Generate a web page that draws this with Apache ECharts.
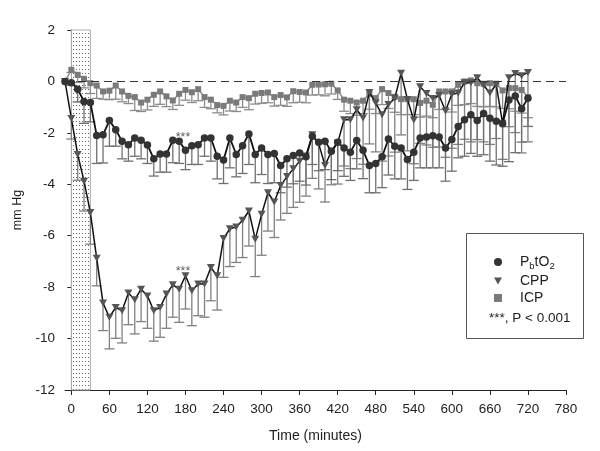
<!DOCTYPE html>
<html>
<head>
<meta charset="utf-8">
<script src="https://cdn.jsdelivr.net/npm/echarts@6/dist/echarts.min.js"></script>
<style>html,body{margin:0;padding:0;background:#fff;}#c{width:600px;height:451px;}</style>
</head>
<body>
<div id="c"></div>
<script>
const times = [-10,0,10,20,30,40,50,60,70,80,90,100,110,120,130,140,150,160,170,180,190,200,210,220,230,240,250,260,270,280,290,300,310,320,330,340,350,360,370,380,390,400,410,420,430,440,450,460,470,480,490,500,510,520,530,540,550,560,570,580,590,600,610,620,630,640,650,660,670,680,690,700,710,720];

const pbto2 = [0,-0.05,-0.3,-0.78,-0.82,-2.1,-2.07,-1.52,-1.88,-2.33,-2.46,-2.2,-2.29,-2.47,-3.01,-2.82,-2.82,-2.29,-2.33,-2.68,-2.5,-2.46,-2.2,-2.2,-2.91,-3.06,-2.2,-2.84,-2.5,-2.04,-2.84,-2.59,-2.84,-2.8,-3.27,-3.01,-2.88,-2.78,-2.93,-2.13,-2.37,-2.33,-2.72,-2.37,-2.59,-2.75,-2.3,-2.68,-3.27,-3.19,-2.93,-2.24,-2.52,-2.59,-3.04,-2.75,-2.2,-2.16,-2.11,-2.16,-2.59,-2.26,-1.75,-1.49,-1.3,-1.52,-1.25,-1.43,-1.55,-1.65,-0.72,-0.57,-1.06,-0.65];
const pbto2Err = [0,0.1,0.5,0.85,0.75,1.09,1.1,1.0,0.64,0.68,0.64,0.71,0.72,0.72,0.67,0.71,0.71,0.87,0.86,0.75,0.73,0.77,0.71,0.9,0.88,0.91,1.16,0.87,1.08,1.19,1.1,1.03,1.13,1.14,1.06,1.1,1.1,1.1,1.1,1.1,1.1,1.1,1.1,1.1,1.1,1.1,1.1,1.1,1.06,1.14,1.2,1.4,1.27,1.2,1.16,1.1,1.16,1.2,1.25,1.2,1.29,1.23,1.22,1.42,1.5,1.39,1.6,1.67,1.7,1.65,2.4,2.2,1.3,1.1];

const cpp = [0,-1.44,-2.84,-3.88,-5.1,-6.88,-8.62,-9.17,-8.79,-8.92,-8.23,-8.49,-8.08,-8.34,-8.92,-8.79,-8.27,-7.91,-8.08,-7.56,-8.14,-7.88,-7.88,-7.24,-7.56,-6.11,-5.73,-5.66,-5.4,-5.04,-6.14,-5.17,-4.33,-4.69,-4.05,-3.7,-3.4,-3.1,-2.9,-2.07,-2.42,-3.27,-2.72,-2.39,-1.49,-1.49,-1.1,-1.42,-0.43,-0.84,-1.3,-0.9,-0.65,0.32,-0.7,-1.5,-0.21,-0.47,-0.66,-0.55,-1.15,-0.5,-0.45,-0.05,-0.05,0.14,-0.15,-0.45,-0.12,-1.63,0.14,0.31,0.22,0.35];
const cppErr = [0,0.8,1.0,1.16,1.23,1.07,1.07,1.23,1.2,1.25,1.23,1.33,1.26,1.26,1.18,1.16,1.33,1.26,1.29,1.29,1.36,1.23,1.29,1.29,1.33,1.51,1.47,1.38,1.45,1.36,1.45,1.59,1.49,1.38,1.34,1.43,1.5,1.6,1.56,1.7,1.76,1.42,1.3,1.6,1.8,1.9,1.9,1.8,2.0,1.9,1.8,2.0,2.1,2.4,2.0,1.7,2.2,2.0,1.9,2.0,1.8,2.1,2.0,2.2,2.3,2.4,2.2,2.0,2.1,1.4,1.9,2.3,3.0,2.7];

const icp = [0,0.45,0.26,0.1,-0.07,-0.16,-0.39,-0.36,-0.16,-0.39,-0.56,-0.61,-0.82,-0.71,-0.52,-0.39,-0.58,-0.74,-0.48,-0.33,-0.42,-0.3,-0.61,-0.71,-0.92,-0.95,-0.75,-0.82,-0.61,-0.65,-0.48,-0.45,-0.43,-0.61,-0.53,-0.62,-0.38,-0.41,-0.43,-0.13,-0.12,-0.11,-0.09,-0.35,-0.71,-0.75,-0.82,-0.75,-0.48,-0.65,-0.3,-0.45,-0.6,-0.69,-0.69,-0.69,-0.84,-0.75,-0.91,-0.39,-0.39,-0.39,-0.13,0.0,0.04,-0.07,-0.09,-0.07,-0.09,-0.35,-0.26,-0.26,-0.33,-0.61];
const icpErr = [0,0.1,0.3,0.35,0.4,0.5,0.3,0.35,0.53,0.4,0.3,0.52,0.35,0.4,0.45,0.5,0.4,0.35,0.45,0.4,0.4,0.45,0.4,0.35,0.3,0.35,0.4,0.35,0.4,0.45,0.4,0.4,0.4,0.35,0.4,0.35,0.45,0.4,0.4,0.4,0.4,0.45,0.4,0.35,0.45,0.5,0.5,0.5,0.6,0.6,0.6,0.6,0.6,0.6,0.6,0.6,0.55,0.6,0.5,0.7,0.7,0.8,0.8,0.9,0.9,0.9,0.9,0.9,0.9,0.7,0.8,0.9,0.9,0.8];

const xTicks = [0,60,120,180,240,300,360,420,480,540,600,660,720,780];
const sigLabels = [[176, -2.2], [176, -7.41]];
const shadeRange = [0, 30];

const FONT = "'Liberation Sans', Arial, sans-serif";
const pair = (vals) => times.map((t, i) => [t, vals[i]]);
const triple = (vals, errs) => times.map((t, i) => [t, vals[i], errs[i]]);

function errSeries(vals, errs, color, z) {
  return {
    type: 'custom', z: z, silent: true,
    data: triple(vals, errs),
    encode: { x: 0, y: 1 },
    renderItem: function (params, api) {
      const x = api.value(0), y = api.value(1), e = api.value(2);
      if (!e) return null;
      const p1 = api.coord([x, y]);
      const p2 = api.coord([x, y - e]);
      const st = { stroke: color, lineWidth: 1.3 };
      return { type: 'group', children: [
        { type: 'line', shape: { x1: p1[0], y1: p1[1], x2: p2[0], y2: p2[1] }, style: st },
        { type: 'line', shape: { x1: p2[0] - 5, y1: p2[1], x2: p2[0] + 5, y2: p2[1] }, style: st }
      ]};
    }
  };
}

const pc = document.createElement('canvas');
pc.width = 3; pc.height = 4;
const pctx = pc.getContext('2d');
pctx.fillStyle = '#fff'; pctx.fillRect(0, 0, 3, 4);
pctx.fillStyle = '#666'; pctx.fillRect(1, 1, 1, 1);

const downTri = 'path://M0,0L10,0L5,9Z';

const chart = echarts.init(document.getElementById('c'), null, { renderer: 'canvas' });
chart.setOption({
  animation: false,
  backgroundColor: '#fff',
  textStyle: { fontFamily: FONT },
  grid: { left: 65, right: 34, top: 30, bottom: 61 },
  xAxis: {
    type: 'value', min: -10, max: 780,
    name: 'Time (minutes)', nameLocation: 'middle', nameGap: 39,
    nameTextStyle: { fontSize: 14, color: '#222', fontFamily: FONT },
    axisLine: { show: true, onZero: false, lineStyle: { color: '#222', width: 1 } },
    axisTick: { show: true, length: 5, lineStyle: { color: '#222' }, customValues: xTicks },
    axisLabel: { fontSize: 13.5, color: '#222', margin: 12, fontFamily: FONT, customValues: xTicks },
    splitLine: { show: false }
  },
  yAxis: {
    type: 'value', min: -12, max: 2, interval: 2,
    name: 'mm Hg', nameLocation: 'middle', nameGap: 41,
    nameTextStyle: { fontSize: 12.5, color: '#222', fontFamily: FONT },
    axisLine: { show: true, lineStyle: { color: '#222', width: 1 } },
    axisTick: { show: true, length: 4, lineStyle: { color: '#222' } },
    axisLabel: { fontSize: 13.5, color: '#222', margin: 10, fontFamily: FONT },
    splitLine: { show: false }
  },
  legend: {
    orient: 'vertical', left: 489, top: 250, z: 10,
    itemWidth: 8, itemHeight: 8, itemGap: 3,
    selectedMode: false,
    data: [
      { name: 'PbtO2', icon: 'circle' },
      { name: 'CPP', icon: downTri },
      { name: 'ICP', icon: 'rect' }
    ],
    formatter: function (name) {
      if (name === 'PbtO2') return '{p|P}{s|b}{n|tO}{s|2}';
      return '{p|' + name + '}';
    },
    textStyle: {
      fontFamily: FONT, color: '#222', fontSize: 14,
      rich: {
        p: { fontSize: 14, padding: [0, 0, 0, 13], lineHeight: 18, fontFamily: FONT, color: '#222' },
        n: { fontSize: 14, lineHeight: 18, fontFamily: FONT, color: '#222' },
        s: { fontSize: 9.5, verticalAlign: 'bottom', lineHeight: 18, fontFamily: FONT, color: '#222' }
      }
    }
  },
  graphic: [
    { type: 'rect', z: 1, shape: { x: 466.5, y: 233.5, width: 117, height: 105 },
      style: { fill: '#fff', stroke: '#555', lineWidth: 1 } },
    { type: 'text', z: 11, x: 489, y: 318,
      style: { text: '***, P < 0.001', fontSize: 13.5, fontFamily: FONT, fill: '#222', verticalAlign: 'middle' } }
  ],
  series: [
    errSeries(icp, icpErr, '#8c8c8c', 1),
    errSeries(cpp, cppErr, '#808080', 1),
    errSeries(pbto2, pbto2Err, '#707070', 1),
    {
      name: 'ICP', type: 'line', z: 3, data: pair(icp),
      symbol: 'rect', symbolSize: 6,
      itemStyle: { color: '#7a7a7a' },
      lineStyle: { color: '#888', width: 1.5 },
      markLine: {
        silent: true, symbol: ['none', 'none'], label: { show: false },
        lineStyle: { color: '#333', width: 1, type: [8, 5] },
        data: [{ yAxis: 0 }]
      },
      markArea: {
        silent: true,
        itemStyle: { color: { image: pc, repeat: 'repeat' }, borderColor: '#aaa', borderWidth: 1 },
        data: [[{ xAxis: shadeRange[0], yAxis: -12 }, { xAxis: shadeRange[1], yAxis: 2 }]]
      }
    },
    {
      name: 'CPP', type: 'line', z: 4, data: pair(cpp),
      symbol: downTri, symbolSize: [8, 7],
      itemStyle: { color: '#555' },
      lineStyle: { color: '#111', width: 1.5 }
    },
    {
      name: 'PbtO2', type: 'line', z: 5, data: pair(pbto2),
      symbol: 'circle', symbolSize: 7.5,
      itemStyle: { color: '#333' },
      lineStyle: { color: '#111', width: 1.8 }
    },
    {
      type: 'scatter', z: 6, silent: true, data: sigLabels,
      symbolSize: 1, itemStyle: { color: 'rgba(0,0,0,0)' },
      label: { show: true, position: 'inside', formatter: '***', fontSize: 12.5, color: '#333', fontFamily: FONT }
    }
  ]
});
</script>
</body>
</html>
